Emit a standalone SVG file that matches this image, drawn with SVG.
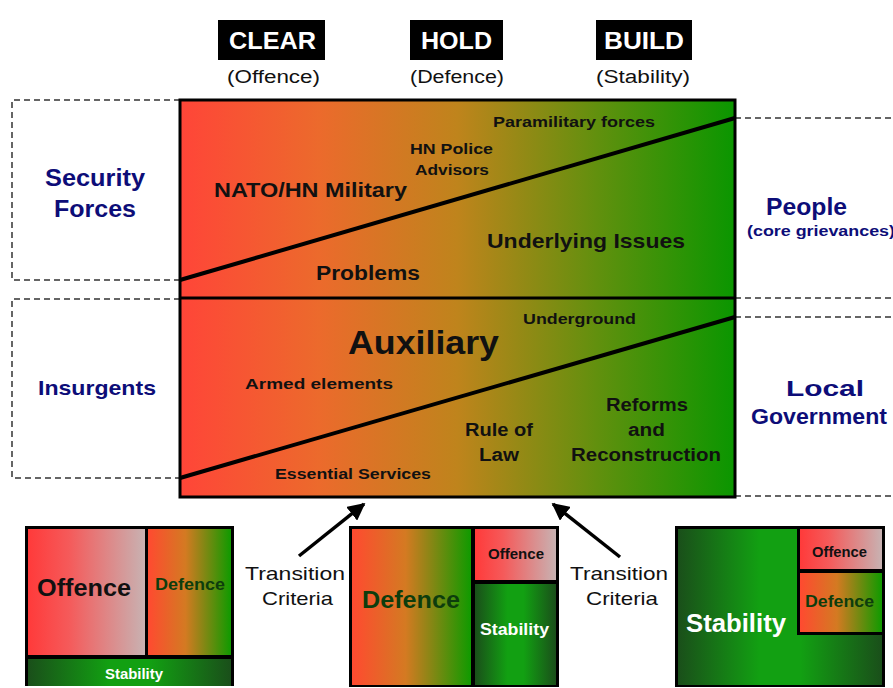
<svg xmlns="http://www.w3.org/2000/svg" width="893" height="688" viewBox="0 0 893 688">
<defs>
<linearGradient id="main" x1="0" y1="0" x2="1" y2="0">
<stop offset="0" stop-color="#ff4538"/>
<stop offset="0.25" stop-color="#ec6a2c"/>
<stop offset="0.5" stop-color="#bf841c"/>
<stop offset="0.75" stop-color="#62900e"/>
<stop offset="1" stop-color="#0a9600"/>
</linearGradient>
<linearGradient id="off" x1="0" y1="0" x2="1" y2="0">
<stop offset="0" stop-color="#ff3a3a"/>
<stop offset="0.35" stop-color="#f55a5a"/>
<stop offset="1" stop-color="#c8b2b2"/>
</linearGradient>
<linearGradient id="def" x1="0" y1="0" x2="1" y2="0">
<stop offset="0" stop-color="#ff4a30"/>
<stop offset="0.45" stop-color="#d47a22"/>
<stop offset="1" stop-color="#109a00"/>
</linearGradient>
<linearGradient id="stab" x1="0" y1="0" x2="1" y2="0">
<stop offset="0" stop-color="#1a4f1a"/>
<stop offset="0.4" stop-color="#12a012"/>
<stop offset="0.6" stop-color="#12a012"/>
<stop offset="1" stop-color="#1a4f1a"/>
</linearGradient>
<marker id="ah" viewBox="0 0 10 10" refX="9" refY="5" markerWidth="5" markerHeight="5" orient="auto">
<path d="M0,0 L10,5 L0,10 z" fill="#000"/>
</marker>
</defs>
<style>
text{font-family:"Liberation Sans",Arial,sans-serif;font-weight:bold;text-anchor:middle}
.navy{fill:#0d0d78}
.dash{fill:none;stroke:#333;stroke-width:1.5;stroke-dasharray:6,4}
.box{stroke:#000;stroke-width:3}
.hdr{fill:#fff;font-size:23px}
.sub{font-size:18px;font-weight:normal;fill:#111}
.t15{font-size:15px;fill:#111}
.tc{font-size:19px;font-weight:normal;fill:#111}
</style>
<rect width="893" height="688" fill="#fff"/>

<g id="headers">
<rect x="218" y="20" width="107" height="40" fill="#000"/>
<text class="hdr" x="272.5" y="49" textLength="87" lengthAdjust="spacingAndGlyphs">CLEAR</text>
<text class="sub" x="273.5" y="83" textLength="93" lengthAdjust="spacingAndGlyphs">(Offence)</text>
<rect x="410" y="20" width="93" height="40" fill="#000"/>
<text class="hdr" x="456.5" y="49" textLength="71" lengthAdjust="spacingAndGlyphs">HOLD</text>
<text class="sub" x="457" y="83" textLength="94" lengthAdjust="spacingAndGlyphs">(Defence)</text>
<rect x="596" y="20" width="96" height="40" fill="#000"/>
<text class="hdr" x="644" y="49" textLength="80" lengthAdjust="spacingAndGlyphs">BUILD</text>
<text class="sub" x="643" y="83" textLength="94" lengthAdjust="spacingAndGlyphs">(Stability)</text>
</g>

<g id="side-boxes">
<path class="dash" d="M180,100 H12 V280 H180"/>
<path class="dash" d="M180,299 H12 V478 H180"/>
<path class="dash" d="M735,118 H893 M735,298 H893 M735,317 H893 M735,496 H893"/>
<text class="navy" x="95" y="186" font-size="23" textLength="100" lengthAdjust="spacingAndGlyphs">Security</text>
<text class="navy" x="95" y="217" font-size="23" textLength="82" lengthAdjust="spacingAndGlyphs">Forces</text>
<text class="navy" x="97" y="395" font-size="21" textLength="118" lengthAdjust="spacingAndGlyphs">Insurgents</text>
<text class="navy" x="806.5" y="215" font-size="23" textLength="81" lengthAdjust="spacingAndGlyphs">People</text>
<text class="navy" x="821" y="236" font-size="14" textLength="148" lengthAdjust="spacingAndGlyphs">(core grievances)</text>
<text class="navy" x="825" y="396" font-size="22" textLength="78" lengthAdjust="spacingAndGlyphs">Local</text>
<text class="navy" x="819" y="424" font-size="22" textLength="136" lengthAdjust="spacingAndGlyphs">Government</text>
</g>

<g id="main-box">
<rect x="180" y="100" width="555" height="397" fill="url(#main)" class="box"/>
<line x1="180" y1="298" x2="735" y2="298" stroke="#000" stroke-width="3"/>
<line x1="180" y1="280" x2="735" y2="118" stroke="#000" stroke-width="4"/>
<line x1="180" y1="478" x2="735" y2="317" stroke="#000" stroke-width="4"/>
<text x="310.5" y="197" font-size="21" fill="#111" textLength="193" lengthAdjust="spacingAndGlyphs">NATO/HN Military</text>
<text class="t15" x="451.5" y="154" textLength="83" lengthAdjust="spacingAndGlyphs">HN Police</text>
<text class="t15" x="452" y="175" textLength="74" lengthAdjust="spacingAndGlyphs">Advisors</text>
<text class="t15" x="574" y="127" textLength="162" lengthAdjust="spacingAndGlyphs">Paramilitary forces</text>
<text x="586" y="248" font-size="21" fill="#111" textLength="198" lengthAdjust="spacingAndGlyphs">Underlying Issues</text>
<text x="368" y="280" font-size="20" fill="#111" textLength="104" lengthAdjust="spacingAndGlyphs">Problems</text>
<text x="423.5" y="354" font-size="33" fill="#111" textLength="151" lengthAdjust="spacingAndGlyphs">Auxiliary</text>
<text class="t15" x="579.5" y="324" textLength="113" lengthAdjust="spacingAndGlyphs">Underground</text>
<text class="t15" x="319" y="389" textLength="148" lengthAdjust="spacingAndGlyphs">Armed elements</text>
<text x="499" y="436" font-size="18" fill="#111" textLength="68" lengthAdjust="spacingAndGlyphs">Rule of</text>
<text x="499" y="461" font-size="18" fill="#111" textLength="40" lengthAdjust="spacingAndGlyphs">Law</text>
<text x="647" y="411" font-size="18" fill="#111" textLength="82" lengthAdjust="spacingAndGlyphs">Reforms</text>
<text x="646.5" y="436" font-size="18" fill="#111" textLength="37" lengthAdjust="spacingAndGlyphs">and</text>
<text x="646" y="461" font-size="18" fill="#111" textLength="150" lengthAdjust="spacingAndGlyphs">Reconstruction</text>
<text class="t15" x="353" y="479" textLength="156" lengthAdjust="spacingAndGlyphs">Essential Services</text>
</g>

<g id="connectors">
<line x1="299" y1="556" x2="364" y2="504" stroke="#000" stroke-width="3.5" marker-end="url(#ah)"/>
<line x1="620" y1="557" x2="553" y2="504" stroke="#000" stroke-width="3.5" marker-end="url(#ah)"/>
</g>

<g id="transition-left">
<text class="tc" x="295" y="580" textLength="100" lengthAdjust="spacingAndGlyphs">Transition</text>
<text class="tc" x="297.5" y="605" textLength="71" lengthAdjust="spacingAndGlyphs">Criteria</text>
</g>
<g id="transition-right">
<text class="tc" x="619" y="580" textLength="98" lengthAdjust="spacingAndGlyphs">Transition</text>
<text class="tc" x="622" y="605" textLength="72" lengthAdjust="spacingAndGlyphs">Criteria</text>
</g>

<g id="phase-clear">
<rect x="25" y="526" width="209" height="160" fill="#000"/>
<rect x="28" y="529" width="117" height="126" fill="url(#off)"/>
<rect x="148" y="529" width="83" height="126" fill="url(#def)"/>
<rect x="28" y="659" width="203" height="27" fill="url(#stab)"/>
<text x="84" y="596" font-size="23" fill="#111" textLength="94" lengthAdjust="spacingAndGlyphs">Offence</text>
<text x="190" y="590" font-size="16" fill="#0d3d0d" textLength="70" lengthAdjust="spacingAndGlyphs">Defence</text>
<text x="134" y="679" font-size="14" fill="#fff" textLength="58" lengthAdjust="spacingAndGlyphs">Stability</text>
</g>

<g id="phase-hold">
<rect x="349" y="526" width="210" height="161" fill="#000"/>
<rect x="352" y="529" width="119" height="156" fill="url(#def)"/>
<rect x="475" y="529" width="81" height="51" fill="url(#off)"/>
<rect x="475" y="584" width="81" height="101" fill="url(#stab)"/>
<text x="411" y="608" font-size="23" fill="#0d3d0d" textLength="98" lengthAdjust="spacingAndGlyphs">Defence</text>
<text x="516" y="559" font-size="14" font-weight="normal" fill="#111" textLength="56" lengthAdjust="spacingAndGlyphs">Offence</text>
<text x="514.5" y="635" font-size="16" fill="#fff" textLength="69" lengthAdjust="spacingAndGlyphs">Stability</text>
</g>

<g id="phase-build">
<rect x="675" y="526" width="210" height="161" fill="#000"/>
<rect x="678" y="529" width="204" height="156" fill="url(#stab)"/>
<path d="M797,526 H885 V635 H797 Z" fill="#000"/>
<rect x="800" y="529" width="82" height="40" fill="url(#off)"/>
<rect x="800" y="573" width="82" height="59" fill="url(#def)"/>
<text x="736" y="632" font-size="25" fill="#fff" textLength="100" lengthAdjust="spacingAndGlyphs">Stability</text>
<text x="839.5" y="557" font-size="14" font-weight="normal" fill="#111" textLength="55" lengthAdjust="spacingAndGlyphs">Offence</text>
<text x="839.5" y="607" font-size="16" fill="#0d3d0d" textLength="69" lengthAdjust="spacingAndGlyphs">Defence</text>
</g>
</svg>
